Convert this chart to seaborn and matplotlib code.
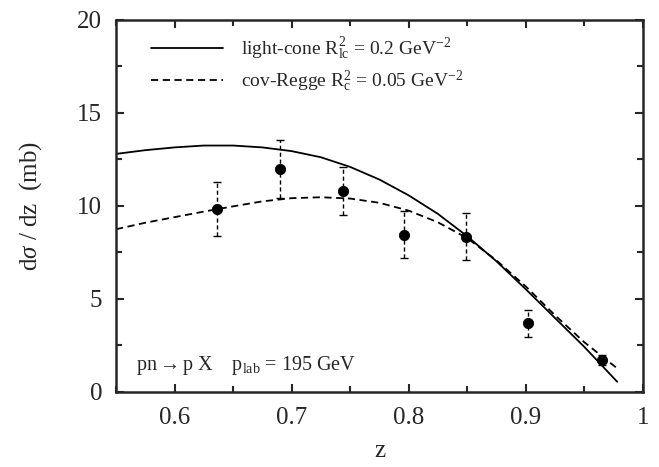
import numpy as np
import pandas as pd
import matplotlib
matplotlib.use("Agg")
import matplotlib.pyplot as plt
import seaborn as sns
from matplotlib.ticker import MultipleLocator

# -------------------- DATA --------------------
z_data = [0.636, 0.690, 0.744, 0.796, 0.849, 0.902, 0.965]
y_data = [9.82, 12.0, 10.8, 8.46, 8.35, 3.69, 1.72]
y_err = [1.45, 1.55, 1.28, 1.26, 1.28, 0.72, 0.25]

z_curve = [0.55, 0.575, 0.60, 0.625, 0.65, 0.675, 0.70, 0.725, 0.75, 0.775,
           0.80, 0.825, 0.85, 0.875, 0.90, 0.925, 0.95, 0.978]
light_cone = [12.8, 13.0, 13.15, 13.25, 13.25, 13.15, 12.95, 12.62, 12.1, 11.42,
              10.57, 9.57, 8.37, 7.02, 5.52, 3.97, 2.42, 0.55]
cov_regge = [8.75, 9.1, 9.4, 9.7, 9.98, 10.25, 10.42, 10.47, 10.4, 10.17,
             9.75, 9.12, 8.27, 7.07, 5.67, 4.12, 2.67, 1.27]

# -------------------- STYLE --------------------
sns.set_style("ticks")
plt.rcParams['font.family'] = ['Liberation Serif', 'DejaVu Serif']
plt.rcParams['mathtext.fontset'] = 'custom'
plt.rcParams['mathtext.rm'] = 'Liberation Serif'
plt.rcParams['mathtext.it'] = 'Liberation Serif:italic'
plt.rcParams['mathtext.bf'] = 'Liberation Serif:bold'

fig = plt.figure(figsize=(6.59, 4.67), dpi=100)
ax = fig.add_axes([0.176, 0.1606, 0.7997, 0.7966])

curves = pd.DataFrame({'z': z_curve, 'lc': light_cone, 'cr': cov_regge})
sns.lineplot(data=curves, x='z', y='lc', ax=ax, color='black', lw=1.3,
             label=r'light-cone $\mathrm{R^2_{lc}}$ = 0.2 GeV$^{-2}$')
sns.lineplot(data=curves, x='z', y='cr', ax=ax, color='black', lw=1.3,
             linestyle=(0, (4, 2.5)),
             label=r'cov-Regge $\mathrm{R^2_c}$ = 0.05 GeV$^{-2}$')

eb = ax.errorbar(z_data, y_data, yerr=y_err, fmt='none', ecolor='black',
                 elinewidth=1.0, capsize=3, capthick=1.0)
eb[2][0].set_linestyle((0, (3, 2)))
sns.scatterplot(x=z_data, y=y_data, ax=ax, color='black', s=55,
                edgecolor='black', zorder=5)

ax.set_xlim(0.55, 1.0)
ax.set_ylim(0, 20)
ax.xaxis.set_major_locator(MultipleLocator(0.1))
ax.xaxis.set_minor_locator(MultipleLocator(0.05))
ax.yaxis.set_major_locator(MultipleLocator(5))
ax.yaxis.set_minor_locator(MultipleLocator(2.5))
ax.set_xticks([0.6, 0.7, 0.8, 0.9, 1.0])
ax.set_xticklabels(['0.6', '0.7', '0.8', '0.9', '1'])
ax.tick_params(which='both', direction='in', top=True, right=True,
               labelsize=18, width=1.5)
ax.tick_params(axis='x', pad=11)
ax.tick_params(axis='y', pad=10)
ax.tick_params(which='major', length=6)
ax.tick_params(which='minor', length=4)
for s in ax.spines.values():
    s.set_linewidth(1.8)
    s.set_visible(True)

ax.set_xlabel('z', fontsize=18, labelpad=8)
ax.set_ylabel(r'd$\sigma$ / dz  (mb)', fontsize=18, labelpad=24)

ax.legend(loc='upper left', frameon=False, fontsize=14, handlelength=3.7,
          handletextpad=0.9, borderaxespad=0.2, labelspacing=0.35,
          bbox_to_anchor=(0.045, 0.99))

ax.text(0.038, 0.07, 'pn$\\rightarrow$p X    p$_{\\mathrm{lab}}$ = 195 GeV',
        transform=ax.transAxes, fontsize=14.5, va='center', ha='left')

fig.savefig('out.png', dpi=100)
